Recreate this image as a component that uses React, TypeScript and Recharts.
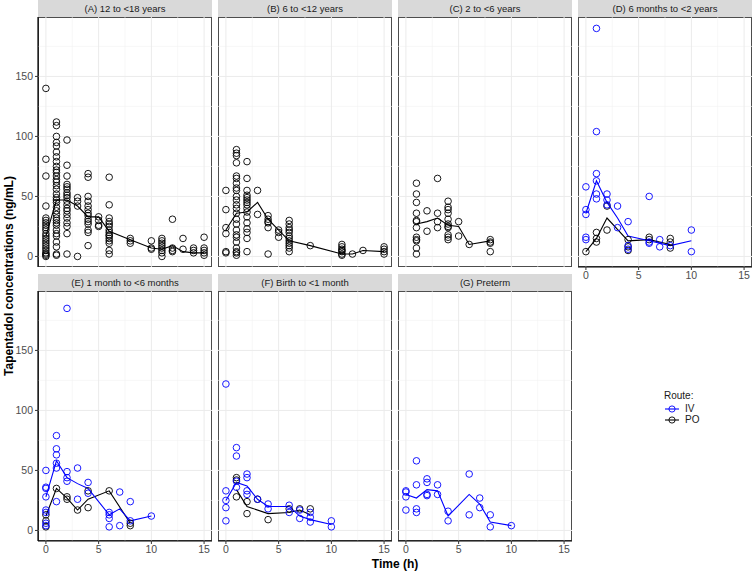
import React from "react"
import { CartesianGrid, ComposedChart, Line, Scatter, XAxis, YAxis } from "recharts"

const FONT = '"Liberation Sans", Arial, Helvetica, sans-serif'
const IV_COLOR = "#0000ff"
const PO_COLOR = "#000000"

const xTicks = [0, 5, 10, 15]
const yTicks = [0, 50, 100, 150]
const xMinor = [2.5, 7.5, 12.5]
const yMinor = [25, 75, 125, 175]

// (A) 12 to <18 years, PO only
const aPoTimes = [0, 1, 2, 3, 4, 5, 6, 8, 10, 11, 12, 13, 14, 15]
const aPoValues = [
  [140, 81, 67, 42, 32, 30, 28, 26, 24, 22, 19, 17, 15, 13, 11, 9, 7, 5, 3, 2, 1, 0],
  [112, 109, 100, 95, 92, 87, 83, 79, 75, 72, 70, 67, 64, 62, 59, 56, 52, 49, 47, 45, 41, 38, 35, 32, 30, 28, 26, 22, 19, 17, 12, 8, 2, 1],
  [97, 76, 67, 60, 58, 56, 53, 51, 49, 46, 43, 40, 38, 35, 32, 28, 25, 19, 2],
  [49, 46, 42, 0],
  [69, 66, 50, 46, 42, 39, 36, 34, 31, 29, 27, 22, 20, 9],
  [33, 30, 26, 25],
  [66, 43, 32, 29, 27, 25, 22, 20, 18, 17, 15, 13, 11, 5, 2],
  [15, 13, 11],
  [13, 7, 6],
  [15, 13, 11, 9, 7, 5, 3, 0],
  [31, 7, 5, 4],
  [15, 6],
  [7, 5, 3],
  [16, 7, 5, 3, 1],
]
const aPoMeanTimes = [0, 1, 2, 3, 4, 5, 6, 8, 10, 11, 12, 13, 14, 15]
const aPoMean = [17, 47, 47, 42, 33, 33, 21, 14, 7, 6, 9, 4, 3, 3]

// (B) 6 to <12 years, PO only
const bPoTimes = [0, 1, 2, 3, 4, 5, 6, 8, 11, 12, 13, 15]
const bPoValues = [
  [55, 39, 24, 19, 4, 3],
  [89, 86, 84, 78, 67, 65, 61, 57, 55, 50, 47, 43, 40, 36, 31, 27, 22, 18, 16, 12, 7, 4, 3, 1],
  [79, 65, 55, 51, 49, 47, 45, 43, 40, 37, 33, 28, 23, 20, 15, 4],
  [55, 35],
  [34, 31, 29, 28, 24, 2],
  [22, 20, 16],
  [30, 27, 24, 22, 20, 17, 15, 13, 11, 9, 7, 4],
  [9],
  [10, 8, 6, 5, 4, 2, 1],
  [2],
  [5],
  [8, 6, 4, 2],
]
const bPoMeanTimes = [0, 1, 2, 3, 4, 5, 6, 8, 11, 12, 13, 15]
const bPoMean = [22, 36, 37, 45, 31, 22, 13, 9, 2, 2, 5, 4]

// (C) 2 to <6 years, PO only
const cPoTimes = [1, 2, 3, 4, 5, 6, 8]
const cPoValues = [
  [61, 52, 45, 36, 30, 29, 24, 16, 14, 13, 7, 2],
  [38, 21],
  [65, 36, 29, 24],
  [46, 41, 39, 36, 31, 27, 25, 24, 18, 16, 14],
  [29, 17],
  [10],
  [14, 12, 11, 4],
]
const cPoMeanTimes = [1, 2, 3, 4, 5, 6, 8]
const cPoMean = [27, 29, 32, 26, 25, 10, 13]

// (D) 6 months to <2 years
const dIvTimes = [0, 1, 2, 3, 4, 6, 7, 8, 10]
const dIvValues = [
  [58, 39, 35, 16, 14],
  [190, 104, 69, 63, 52, 48],
  [52, 47, 43],
  [42, 24],
  [29, 9, 6],
  [50, 12, 11],
  [14, 8],
  [9],
  [22, 4],
]
const dIvMeanTimes = [0, 1, 2, 3, 4, 6, 7, 8, 10]
const dIvMean = [36, 63, 45, 32, 17, 13, 11, 9, 13]
const dPoTimes = [0, 1, 2, 4, 6, 8]
const dPoValues = [[4], [20, 15, 12], [42, 22], [14, 8, 5], [16, 14], [15, 12, 7]]
const dPoMeanTimes = [0, 1, 2, 4, 6, 8]
const dPoMean = [4, 15, 32, 13, 14, 10]

// (E) 1 month to <6 months
const eIvTimes = [0, 1, 2, 3, 4, 6, 7, 8, 10]
const eIvValues = [
  [50, 36, 35, 28, 17, 15, 6, 4],
  [79, 68, 63, 56, 52, 24],
  [185, 49, 44, 41],
  [52, 26],
  [40, 31],
  [15, 13, 10, 3],
  [32, 4],
  [24, 8],
  [12],
]
const eIvMeanTimes = [0, 1, 2, 3, 4, 6, 7, 8, 10]
const eIvMean = [28, 58, 44, 39, 35, 13, 18, 8, 12]
const ePoTimes = [0, 1, 2, 3, 4, 6, 8]
const ePoValues = [[13, 8, 3], [35], [28, 26], [17], [33, 19], [33], [6, 4]]
const ePoMeanTimes = [0, 1, 2, 3, 4, 6, 8]
const ePoMean = [12, 35, 27, 17, 26, 33, 6]

// (F) Birth to <1 month
const fIvTimes = [0, 1, 2, 3, 4, 6, 7, 8, 10]
const fIvValues = [
  [122, 33, 25, 19, 8],
  [69, 62, 41, 36],
  [47, 44, 33, 30],
  [26],
  [22, 18],
  [21, 15],
  [17, 10],
  [15, 11, 7],
  [8, 3],
]
const fIvMeanTimes = [0, 1, 2, 3, 4, 6, 7, 8, 10]
const fIvMean = [25, 40, 37, 26, 20, 20, 12, 9, 5]
const fPoTimes = [1, 2, 3, 4, 6, 7, 8]
const fPoValues = [[44, 42, 28], [24, 14], [26], [9], [18], [18], [18]]
const fPoMeanTimes = [1, 2, 4, 6, 7, 8]
const fPoMean = [34, 20, 14, 15, 17, 13]

// (G) Preterm, IV only
const gIvTimes = [0, 1, 2, 3, 4, 6, 7, 8, 10]
const gIvValues = [
  [33, 32, 28, 17],
  [58, 38, 18, 15],
  [43, 40, 30, 29],
  [38, 30],
  [16, 8],
  [47, 13],
  [27, 19],
  [13, 3],
  [4],
]
const gIvMeanTimes = [0, 1, 2, 3, 4, 6, 7, 8, 10]
const gIvMean = [30, 27, 34, 33, 12, 30, 22, 7, 4]

type Pt = { t: number; v: number }

const expand = (times: number[], values: number[][]): Pt[] =>
  times.flatMap((t, i) => values[i].map((v) => ({ t, v })))

const pairs = (times: number[], values: number[]): Pt[] =>
  times.map((t, i) => ({ t, v: values[i] }))

type Series = { color: string; points: Pt[]; mean: Pt[] }

const panels: { title: string; series: Series[] }[] = [
  { title: "(A) 12 to <18 years", series: [{ color: PO_COLOR, points: expand(aPoTimes, aPoValues), mean: pairs(aPoMeanTimes, aPoMean) }] },
  { title: "(B) 6 to <12 years", series: [{ color: PO_COLOR, points: expand(bPoTimes, bPoValues), mean: pairs(bPoMeanTimes, bPoMean) }] },
  { title: "(C) 2 to <6 years", series: [{ color: PO_COLOR, points: expand(cPoTimes, cPoValues), mean: pairs(cPoMeanTimes, cPoMean) }] },
  {
    title: "(D) 6 months to <2 years",
    series: [
      { color: PO_COLOR, points: expand(dPoTimes, dPoValues), mean: pairs(dPoMeanTimes, dPoMean) },
      { color: IV_COLOR, points: expand(dIvTimes, dIvValues), mean: pairs(dIvMeanTimes, dIvMean) },
    ],
  },
  {
    title: "(E) 1 month to <6 months",
    series: [
      { color: PO_COLOR, points: expand(ePoTimes, ePoValues), mean: pairs(ePoMeanTimes, ePoMean) },
      { color: IV_COLOR, points: expand(eIvTimes, eIvValues), mean: pairs(eIvMeanTimes, eIvMean) },
    ],
  },
  {
    title: "(F) Birth to <1 month",
    series: [
      { color: PO_COLOR, points: expand(fPoTimes, fPoValues), mean: pairs(fPoMeanTimes, fPoMean) },
      { color: IV_COLOR, points: expand(fIvTimes, fIvValues), mean: pairs(fIvMeanTimes, fIvMean) },
    ],
  },
  { title: "(G) Preterm", series: [{ color: IV_COLOR, points: expand(gIvTimes, gIvValues), mean: pairs(gIvMeanTimes, gIvMean) }] },
]

const COL_LEFT = [38, 218, 398, 578]
const PANEL_W = 174
const PANEL_H = 250
const STRIP_H = 17
const ROW_TOP = [0, 274]
const Y_AXIS_W = 30
const X_AXIS_H = 22

const circle = (color: string) => (p: any) =>
  <circle cx={p.cx} cy={p.cy} r={3.3} fill="none" stroke={color} strokeWidth={0.9} />

const Panel = ({ idx }: { idx: number }) => {
  const panel = panels[idx]
  const col = idx % 4
  const row = Math.floor(idx / 4)
  const showY = col === 0
  const showX = row === 1 || idx === 3
  const left = COL_LEFT[col]
  const stripTop = ROW_TOP[row]
  const plotTop = stripTop + STRIP_H
  const tickStyle = { fontSize: 10.5, fill: "#4d4d4d", fontFamily: FONT }
  return (
    <>
      <div
        style={{
          position: "absolute",
          left,
          top: stripTop,
          width: PANEL_W,
          height: STRIP_H,
          background: "#d9d9d9",
          color: "#1a1a1a",
          fontSize: 9.5,
          lineHeight: `${STRIP_H}px`,
          textAlign: "center",
          fontFamily: FONT,
        }}
      >
        {panel.title}
      </div>
      <div
        style={{
          position: "absolute",
          left,
          top: plotTop,
          width: PANEL_W,
          height: PANEL_H,
          border: "1px solid #4d4d4d",
          boxSizing: "border-box",
        }}
      />
      <div style={{ position: "absolute", left: left - (showY ? Y_AXIS_W : 0), top: plotTop }}>
        <ComposedChart
          width={PANEL_W + (showY ? Y_AXIS_W : 0)}
          height={PANEL_H + (showX ? X_AXIS_H : 0)}
          margin={{ top: 0, right: 0, bottom: 0, left: 0 }}
        >
          <CartesianGrid stroke="#f2f2f2" strokeWidth={0.6} horizontalValues={yMinor} verticalValues={xMinor} />
          <CartesianGrid stroke="#ebebeb" strokeWidth={1} horizontalValues={yTicks} verticalValues={xTicks} />
          <XAxis
            type="number"
            dataKey="t"
            domain={[-0.75, 15.75]}
            ticks={xTicks}
            allowDataOverflow
            hide={!showX}
            height={X_AXIS_H}
            tick={tickStyle}
            tickSize={3}
            tickMargin={2}
            tickLine={{ stroke: "#333" }}
            axisLine={{ stroke: "#000", strokeWidth: 1.2 }}
          />
          <YAxis
            type="number"
            dataKey="v"
            domain={[-8.8, 199.5]}
            ticks={yTicks}
            allowDataOverflow
            hide={!showY}
            width={Y_AXIS_W}
            tick={tickStyle}
            tickSize={3}
            tickMargin={2}
            tickLine={{ stroke: "#333" }}
            axisLine={{ stroke: "#000", strokeWidth: 1.2 }}
          />
          {panel.series.map((s, i) => (
            <Scatter
              key={`s${i}`}
              data={s.points}
              dataKey="v"
              shape={circle(s.color)}
              isAnimationActive={false}
            />
          ))}
          {panel.series.map((s, i) => (
            <Line
              key={`l${i}`}
              data={s.mean}
              dataKey="v"
              type="linear"
              stroke={s.color}
              strokeWidth={1.1}
              dot={false}
              activeDot={false}
              isAnimationActive={false}
            />
          ))}
        </ComposedChart>
      </div>
    </>
  )
}

const LegendKey = ({ color }: { color: string }) => (
  <svg width={16} height={10} style={{ display: "block" }}>
    <line x1={1} y1={5} x2={15} y2={5} stroke={color} strokeWidth={1.1} />
    <circle cx={8} cy={5} r={3.1} fill="none" stroke={color} strokeWidth={0.9} />
  </svg>
)

export default function App() {
  return (
    <div
      style={{
        position: "fixed",
        left: 0,
        top: 0,
        width: 753,
        height: 572,
        background: "#fff",
        fontFamily: FONT,
        overflow: "hidden",
      }}
    >
      {panels.map((_, i) => (
        <Panel key={i} idx={i} />
      ))}
      <div style={{ position: "absolute", left: 9, top: 276, width: 0, height: 0 }}>
        <div
          style={{
            position: "absolute",
            left: 0,
            top: 0,
            transform: "translate(-50%, -50%) rotate(-90deg)",
            whiteSpace: "nowrap",
            fontWeight: "bold",
            fontSize: 12,
            lineHeight: "14px",
            color: "#000",
          }}
        >
          Tapentadol concentrations (ng/mL)
        </div>
      </div>
      <div
        style={{
          position: "absolute",
          left: 38,
          width: 714,
          top: 557,
          lineHeight: "14px",
          textAlign: "center",
          fontWeight: "bold",
          fontSize: 12,
          color: "#000",
        }}
      >
        Time (h)
      </div>
      <div style={{ position: "absolute", left: 664, top: 390, fontSize: 10, color: "#1a1a1a" }}>
        <div style={{ marginBottom: 2 }}>Route:</div>
        <div style={{ display: "flex", alignItems: "center", height: 11 }}>
          <LegendKey color={IV_COLOR} />
          <span style={{ marginLeft: 5 }}>IV</span>
        </div>
        <div style={{ display: "flex", alignItems: "center", height: 11 }}>
          <LegendKey color={PO_COLOR} />
          <span style={{ marginLeft: 5 }}>PO</span>
        </div>
      </div>
    </div>
  )
}
